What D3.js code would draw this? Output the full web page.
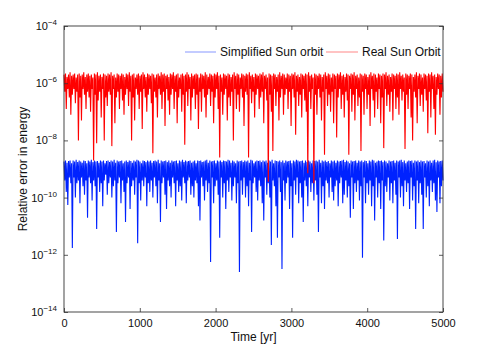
<!DOCTYPE html>
<html>
<head>
<meta charset="utf-8">
<script src="https://cdn.jsdelivr.net/npm/d3@7"></script>
<style>
  body { margin: 0; background: #fff; }
  svg { font-family: "Liberation Sans", Arial, sans-serif; }
</style>
</head>
<body>
<div id="chart"></div>
<script>
// log10 of the relative energy error, sampled evenly over 0..5000 yr
const simplifiedLog = [
  -8.74,-9.4,-8.7,-9.8,-8.78,-10.26,-8.72,-9.3,-8.7,-9.5,
  -8.8,-11.76,-8.7,-9.3,-8.74,-10.0,-8.68,-9.5,-8.76,-9.4,
  -8.7,-10.2,-8.74,-9.3,-8.78,-9.6,-8.7,-9.9,-8.72,-9.4,
  -8.8,-10.7,-8.7,-9.3,-8.74,-9.5,-8.68,-10.1,-8.76,-9.4,
  -8.7,-9.6,-8.74,-11.1,-8.72,-9.3,-8.78,-9.8,-8.7,-9.5,
  -8.74,-10.3,-8.7,-9.4,-8.8,-9.2,-8.72,-9.9,-8.7,-9.5,
  -8.76,-9.3,-8.7,-10.0,-8.74,-9.6,-8.68,-9.4,-8.78,-11.2,
  -8.7,-9.5,-8.74,-9.3,-8.72,-10.2,-8.7,-9.4,-8.8,-9.8,
  -8.74,-10.85,-8.7,-9.5,-8.76,-9.3,-8.7,-10.4,-8.72,-9.6,
  -8.78,-9.4,-8.7,-9.9,-8.74,-9.3,-8.68,-11.6,-8.7,-9.5,
  -8.74,-10.1,-8.8,-9.4,-8.7,-9.6,-8.72,-9.3,-8.76,-10.3,
  -8.7,-9.5,-8.74,-9.8,-8.7,-9.4,-8.78,-10.0,-8.72,-9.3,
  -8.7,-9.6,-8.74,-10.2,-8.68,-9.4,-8.8,-10.85,-8.7,-9.5,
  -8.74,-9.3,-8.72,-9.9,-8.7,-10.4,-8.76,-9.4,-8.7,-9.6,
  -8.78,-10.0,-8.7,-9.3,-8.74,-9.5,-8.72,-10.3,-8.7,-9.4,
  -8.8,-9.8,-8.7,-9.6,-8.74,-10.1,-8.68,-9.3,-8.76,-9.5,
  -8.7,-10.2,-8.74,-9.4,-8.72,-9.3,-8.7,-9.9,-8.78,-9.6,
  -8.74,-10.0,-8.7,-9.4,-8.8,-9.5,-8.7,-10.3,-8.72,-10.8,
  -8.7,-9.3,-8.76,-9.6,-8.74,-10.1,-8.7,-9.4,-8.68,-9.8,
  -8.78,-9.5,-8.7,-12.25,-8.74,-9.3,-8.72,-10.2,-8.7,-9.6,
  -8.8,-9.4,-8.7,-9.9,-8.74,-11.4,-8.7,-9.3,-8.76,-10.0,
  -8.7,-9.5,-8.72,-10.4,-8.74,-9.4,-8.68,-9.8,-8.7,-9.3,
  -8.78,-10.1,-8.7,-9.6,-8.74,-9.3,-8.8,-10.2,-8.7,-9.5,
  -8.74,-12.6,-8.72,-9.4,-8.7,-9.9,-8.76,-9.3,-8.7,-10.0,
  -8.74,-9.6,-8.7,-10.3,-8.78,-9.4,-8.68,-11.2,-8.7,-9.5,
  -8.8,-9.3,-8.74,-9.8,-8.7,-10.1,-8.72,-9.4,-8.7,-9.6,
  -8.76,-10.2,-8.7,-10.8,-8.74,-9.3,-8.7,-9.9,-8.78,-9.5,
  -8.7,-10.0,-8.74,-11.66,-8.68,-9.4,-8.8,-9.6,-8.7,-10.3,
  -8.72,-11.4,-8.74,-9.3,-8.7,-9.8,-8.76,-12.5,-8.7,-9.4,
  -8.78,-10.1,-8.7,-9.5,-8.74,-9.3,-8.72,-10.4,-8.7,-9.6,
  -8.8,-11.4,-8.7,-9.4,-8.74,-9.9,-8.68,-9.3,-8.7,-10.2,
  -8.74,-9.5,-8.72,-10.0,-8.7,-10.85,-8.78,-9.4,-8.7,-9.6,
  -8.76,-10.3,-8.7,-9.3,-8.74,-9.8,-8.8,-9.5,-8.7,-10.1,
  -8.72,-9.4,-8.7,-9.9,-8.74,-11.2,-8.68,-9.3,-8.78,-10.2,
  -8.7,-9.6,-8.74,-10.4,-8.7,-9.4,-8.76,-9.5,-8.72,-10.0,
  -8.8,-9.3,-8.7,-9.8,-8.74,-10.1,-8.7,-9.6,-8.78,-9.4,
  -8.7,-10.3,-8.74,-9.5,-8.72,-9.3,-8.7,-10.2,-8.68,-9.9,
  -8.76,-9.4,-8.7,-10.0,-8.74,-9.6,-8.8,-10.7,-8.7,-9.3,
  -8.74,-10.4,-8.72,-9.5,-8.7,-9.8,-8.78,-9.4,-8.7,-10.1,
  -8.74,-9.6,-8.7,-12.1,-8.76,-9.3,-8.7,-10.2,-8.72,-9.5,
  -8.8,-9.9,-8.7,-9.4,-8.74,-10.3,-8.68,-9.6,-8.7,-10.8,
  -8.78,-9.3,-8.74,-10.0,-8.7,-9.5,-8.72,-10.4,-8.7,-9.4,
  -8.76,-11.5,-8.7,-9.6,-8.74,-9.8,-8.8,-9.3,-8.7,-10.1,
  -8.74,-9.5,-8.72,-10.2,-8.7,-9.4,-8.78,-9.9,-8.7,-11.45,
  -8.74,-9.3,-8.7,-10.0,-8.68,-9.6,-8.76,-10.3,-8.7,-9.4,
  -8.8,-9.8,-8.74,-9.5,-8.7,-10.4,-8.72,-9.3,-8.7,-10.1,
  -8.78,-9.6,-8.7,-11.1,-8.74,-9.4,-8.7,-10.2,-8.76,-9.5,
  -8.7,-9.9,-8.74,-11.1,-8.72,-9.3,-8.8,-10.0,-8.7,-9.6,
  -8.74,-10.3,-8.7,-9.4,-8.78,-9.8,-8.7,-9.5,-8.68,-10.1,
  -8.76,-10.5,-8.7,-9.3,-8.74,-10.2,-8.72,-9.6,-8.7,-9.4
];

const realLog = [
  -5.7,-6.3,-5.66,-6.9,-5.78,-6.2,-5.7,-6.5,-5.62,-7.1,
  -5.74,-6.4,-5.7,-6.2,-5.66,-6.7,-5.8,-6.3,-5.7,-8.0,
  -5.66,-6.5,-5.74,-7.3,-5.7,-6.2,-5.62,-6.4,-5.78,-6.9,
  -5.7,-6.3,-5.66,-6.5,-5.74,-7.0,-5.7,-6.2,-5.8,-8.7,
  -5.66,-6.4,-5.7,-8.1,-5.62,-6.6,-5.74,-6.3,-5.7,-7.2,
  -5.78,-6.2,-5.66,-8.0,-5.7,-6.5,-5.74,-6.8,-5.66,-6.3,
  -5.7,-6.4,-5.62,-8.2,-5.74,-6.2,-5.7,-7.4,-5.8,-6.5,
  -5.66,-6.3,-5.7,-6.9,-5.74,-6.2,-5.66,-6.6,-5.7,-7.1,
  -5.78,-6.4,-5.66,-6.2,-5.7,-6.8,-5.62,-6.3,-5.74,-8.0,
  -5.7,-6.5,-5.66,-7.3,-5.8,-6.2,-5.7,-6.4,-5.66,-6.9,
  -5.74,-6.3,-5.7,-7.6,-5.62,-6.2,-5.7,-6.5,-5.78,-7.0,
  -5.66,-6.4,-5.7,-6.2,-5.74,-6.7,-5.66,-8.45,-5.7,-6.3,
  -5.8,-6.5,-5.7,-7.2,-5.66,-6.2,-5.74,-6.4,-5.62,-6.9,
  -5.7,-6.3,-5.66,-7.5,-5.74,-6.2,-5.7,-6.6,-5.78,-7.1,
  -5.66,-6.4,-5.7,-6.2,-5.62,-6.9,-5.74,-6.3,-5.7,-7.4,
  -5.66,-6.5,-5.8,-6.2,-5.7,-7.0,-5.66,-6.4,-5.74,-8.15,
  -5.7,-6.3,-5.62,-6.8,-5.7,-6.2,-5.78,-7.3,-5.66,-6.5,
  -5.74,-6.2,-5.7,-6.9,-5.66,-6.4,-5.7,-7.6,-5.8,-6.3,
  -5.66,-7.0,-5.7,-6.2,-5.74,-6.5,-5.62,-7.2,-5.7,-6.4,
  -5.78,-6.2,-5.66,-6.8,-5.7,-6.3,-5.74,-7.4,-5.66,-6.5,
  -5.7,-6.2,-5.62,-6.9,-5.74,-8.6,-5.7,-6.3,-5.8,-7.1,
  -5.66,-6.4,-5.7,-6.2,-5.74,-7.3,-5.66,-6.5,-5.7,-6.8,
  -5.78,-6.3,-5.7,-8.0,-5.62,-6.2,-5.74,-6.9,-5.66,-6.4,
  -5.7,-7.0,-5.8,-6.2,-5.66,-6.5,-5.7,-7.5,-5.74,-6.3,
  -5.66,-6.4,-5.7,-8.6,-5.62,-6.2,-5.74,-6.7,-5.7,-6.3,
  -5.78,-7.2,-5.66,-6.4,-5.7,-6.2,-5.74,-6.9,-5.66,-6.5,
  -5.7,-6.3,-5.62,-7.4,-5.74,-6.2,-5.7,-6.6,-5.8,-9.45,
  -5.66,-6.4,-5.7,-7.0,-5.74,-8.37,-5.66,-6.2,-5.7,-6.8,
  -5.78,-6.3,-5.7,-7.3,-5.62,-6.5,-5.74,-6.2,-5.66,-7.1,
  -5.7,-6.4,-5.8,-6.2,-5.66,-6.9,-5.7,-6.3,-5.74,-7.5,
  -5.66,-6.2,-5.7,-6.5,-5.62,-7.8,-5.74,-6.3,-5.7,-6.8,
  -5.78,-6.4,-5.66,-7.2,-5.7,-6.2,-5.74,-6.6,-5.66,-7.0,
  -5.7,-9.15,-5.62,-6.3,-5.74,-6.9,-5.7,-6.2,-5.8,-9.5,
  -5.66,-6.4,-5.7,-7.1,-5.74,-6.2,-5.66,-6.5,-5.7,-7.3,
  -5.78,-6.3,-5.7,-8.5,-5.62,-6.2,-5.74,-6.8,-5.66,-6.4,
  -5.7,-7.0,-5.8,-6.3,-5.66,-7.4,-5.7,-6.2,-5.74,-7.9,
  -5.66,-6.5,-5.7,-6.2,-5.62,-6.9,-5.74,-6.4,-5.7,-7.2,
  -5.78,-6.3,-5.66,-6.6,-5.7,-8.5,-5.74,-6.2,-5.66,-7.0,
  -5.7,-6.4,-5.62,-7.3,-5.74,-6.2,-5.7,-6.8,-5.8,-6.5,
  -5.66,-8.37,-5.7,-6.3,-5.74,-7.1,-5.66,-6.2,-5.7,-6.9,
  -5.78,-6.4,-5.7,-7.5,-5.62,-6.2,-5.74,-6.6,-5.66,-7.2,
  -5.7,-6.3,-5.8,-6.9,-5.66,-6.2,-5.7,-7.4,-5.74,-6.5,
  -5.66,-8.27,-5.7,-6.2,-5.62,-6.8,-5.74,-6.4,-5.7,-7.0,
  -5.78,-6.3,-5.66,-7.3,-5.7,-6.2,-5.74,-6.9,-5.66,-6.5,
  -5.7,-7.1,-5.62,-6.2,-5.74,-6.6,-5.7,-6.3,-5.8,-8.3,
  -5.66,-6.4,-5.7,-6.9,-5.74,-6.2,-5.66,-7.2,-5.7,-8.0,
  -5.78,-6.3,-5.7,-6.5,-5.62,-7.4,-5.74,-6.2,-5.66,-6.8,
  -5.7,-6.4,-5.8,-7.0,-5.66,-6.2,-5.7,-6.6,-5.74,-7.75,
  -5.66,-6.3,-5.7,-7.2,-5.62,-6.2,-5.74,-6.9,-5.7,-7.8,
  -5.78,-6.4,-5.66,-6.2,-5.7,-7.1,-5.74,-6.5,-5.66,-6.3
];

const seriesNames = ['Simplified Sun orbit', 'Real Sun Orbit'];
const seriesColors = ['#0022ff', '#ff0000'];
const xTicks = [0, 1000, 2000, 3000, 4000, 5000];
const yExponents = [-4, -6, -8, -10, -12, -14];

const width = 491, height = 352;
const plot = { left: 64, top: 26, right: 443, bottom: 312 };

const svg = d3.select('#chart').append('svg')
  .attr('width', width)
  .attr('height', height);

const x = d3.scaleLinear().domain([0, 5000]).range([plot.left, plot.right]);
const y = d3.scaleLog().domain([1e-14, 1e-4]).range([plot.bottom, plot.top]);

const timeOf = (i, n) => i * 5000 / (n - 1);

// series, blue first then red on top
[simplifiedLog, realLog].forEach((vals, k) => {
  const line = d3.line()
    .x((d, i) => x(timeOf(i, vals.length)))
    .y(d => y(Math.pow(10, d)));
  svg.append('path')
    .datum(vals)
    .attr('d', line)
    .attr('fill', 'none')
    .attr('stroke', seriesColors[k])
    .attr('stroke-width', 1.1);
});

// axes
const fmtNone = () => '';

const gx = svg.append('g')
  .attr('transform', `translate(0,${plot.bottom})`)
  .call(d3.axisBottom(x).tickValues(xTicks).tickSize(-4).tickPadding(7).tickFormat(d3.format('d')));
svg.append('g')
  .attr('transform', `translate(0,${plot.top})`)
  .call(d3.axisTop(x).tickValues(xTicks).tickSize(-4).tickFormat(fmtNone));

const yTickVals = yExponents.map(e => Math.pow(10, e));
const gy = svg.append('g')
  .attr('transform', `translate(${plot.left},0)`)
  .call(d3.axisLeft(y).tickValues(yTickVals).tickSize(-4).tickPadding(7));
svg.append('g')
  .attr('transform', `translate(${plot.right},0)`)
  .call(d3.axisRight(y).tickValues(yTickVals).tickSize(-4).tickFormat(fmtNone));

svg.selectAll('.domain').remove();
svg.selectAll('.tick line').attr('stroke', '#333').attr('stroke-width', 0.8);

gx.selectAll('.tick text')
  .attr('font-size', 11).attr('font-family', null).attr('fill', '#111');

gy.selectAll('.tick text')
  .attr('font-size', 11).attr('font-family', null).attr('fill', '#111')
  .text('')
  .each(function (d, i) {
    const t = d3.select(this);
    t.append('tspan').text('10');
    t.append('tspan').attr('dy', -5).attr('font-size', 8)
      .text(String(yExponents[i]).replace('-', '\u2212'));
  });

// frame
svg.append('rect')
  .attr('x', plot.left).attr('y', plot.top)
  .attr('width', plot.right - plot.left)
  .attr('height', plot.bottom - plot.top)
  .attr('fill', 'none')
  .attr('stroke', '#333')
  .attr('stroke-width', 0.9);

// axis labels
svg.append('text')
  .attr('x', (plot.left + plot.right) / 2)
  .attr('y', 341)
  .attr('text-anchor', 'middle')
  .attr('font-size', 12)
  .attr('fill', '#111')
  .text('Time [yr]');

svg.append('text')
  .attr('transform', `translate(27,${(plot.top + plot.bottom) / 2}) rotate(-90)`)
  .attr('text-anchor', 'middle')
  .attr('font-size', 12)
  .attr('fill', '#111')
  .text('Relative error in energy');

// legend
const legendItems = [
  { x1: 185, x2: 216, tx: 220 },
  { x1: 326, x2: 358, tx: 362 }
];
const legY = 52;
legendItems.forEach((it, k) => {
  svg.append('line')
    .attr('x1', it.x1).attr('x2', it.x2)
    .attr('y1', legY).attr('y2', legY)
    .attr('stroke', seriesColors[k])
    .attr('stroke-opacity', 0.6)
    .attr('stroke-width', 0.8);
  svg.append('text')
    .attr('x', it.tx).attr('y', legY + 4)
    .attr('font-size', 12)
    .attr('fill', '#111')
    .text(seriesNames[k]);
});
</script>
</body>
</html>
